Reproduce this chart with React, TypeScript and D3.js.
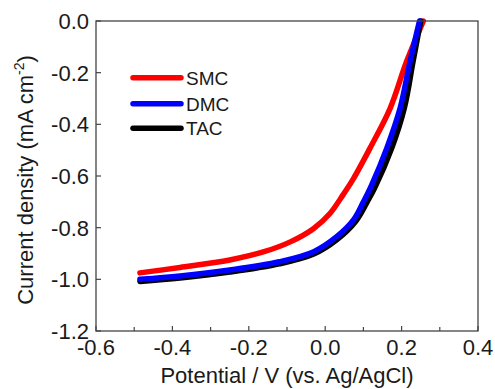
import React from "react";
import * as d3 from "d3";

const seriesNames = ["SMC", "DMC", "TAC"];
const seriesColors = ["#ff0000", "#0000ff", "#000000"];

const smcPotential = [-0.485, -0.38, -0.25, -0.16, -0.09, -0.03, 0.013, 0.047, 0.074, 0.117, 0.17, 0.213, 0.257];
const smcCurrent = [-0.975, -0.954, -0.925, -0.893, -0.854, -0.803, -0.744, -0.672, -0.61, -0.493, -0.338, -0.157, 0.0];

const dmcPotential = [-0.485, -0.38, -0.25, -0.12, -0.03, 0.03, 0.074, 0.1, 0.12, 0.161, 0.196, 0.222, 0.247];
const dmcCurrent = [-1.0, -0.987, -0.964, -0.932, -0.893, -0.835, -0.77, -0.7, -0.64, -0.493, -0.338, -0.157, 0.0];

const tacPotential = [-0.485, -0.38, -0.25, -0.12, -0.03, 0.03, 0.08, 0.11, 0.13, 0.174, 0.207, 0.23, 0.25];
const tacCurrent = [-1.008, -0.995, -0.972, -0.94, -0.902, -0.847, -0.775, -0.7, -0.645, -0.493, -0.338, -0.157, 0.0];

const xTicks = [-0.6, -0.4, -0.2, 0.0, 0.2, 0.4];
const xMinorTicks = [-0.5, -0.3, -0.1, 0.1, 0.3];
const yTicks = [0.0, -0.2, -0.4, -0.6, -0.8, -1.0, -1.2];

const W = 495;
const H = 389;
const L = 96, R = 478, T = 21, B = 331;
const FONT = "'Liberation Sans', Arial, Helvetica, sans-serif";

export default function App() {
  const x = d3.scaleLinear().domain([-0.6, 0.4]).range([L, R]);
  const y = d3.scaleLinear().domain([-1.2, 0.0]).range([B, T]);
  const line = d3
    .line<[number, number]>()
    .x((d) => x(d[0]))
    .y((d) => y(d[1]))
    .curve(d3.curveCatmullRom.alpha(0.5));

  const series = [
    { name: seriesNames[0], color: seriesColors[0], pts: smcPotential.map((p, i) => [p, smcCurrent[i]] as [number, number]) },
    { name: seriesNames[1], color: seriesColors[1], pts: dmcPotential.map((p, i) => [p, dmcCurrent[i]] as [number, number]) },
    { name: seriesNames[2], color: seriesColors[2], pts: tacPotential.map((p, i) => [p, tacCurrent[i]] as [number, number]) },
  ];
  const drawOrder = [0, 2, 1];
  const fmt = d3.format(".1f");
  const lab = (v: number) => (Math.abs(v) < 1e-9 ? "0.0" : fmt(v).replace("−", "-"));
  const axisColor = "#444";
  const textColor = "#1a1a1a";

  return (
    <svg
      width={W}
      height={H}
      style={{ position: "absolute", left: 0, top: 0, background: "#fff" }}
      fontFamily={FONT}
    >
      <rect x={0} y={0} width={W} height={H} fill="#fff" />
      {drawOrder.map((i) => (
        <path
          key={series[i].name}
          d={line(series[i].pts) || ""}
          fill="none"
          stroke={series[i].color}
          strokeWidth={5.5}
          strokeLinecap="round"
          strokeLinejoin="round"
        />
      ))}
      <rect x={L} y={T} width={R - L} height={B - T} fill="none" stroke={axisColor} strokeWidth={1.3} />
      {xTicks.map((t) => (
        <g key={"xt" + t}>
          <line x1={x(t)} x2={x(t)} y1={B} y2={B - 5} stroke={axisColor} strokeWidth={1.2} />
          <text x={x(t)} y={355} textAnchor="middle" fontSize={22} fill={textColor}>
            {lab(t)}
          </text>
        </g>
      ))}
      {xMinorTicks.map((t) => (
        <line key={"xm" + t} x1={x(t)} x2={x(t)} y1={B} y2={B - 4} stroke={axisColor} strokeWidth={1.2} />
      ))}
      {yTicks.map((t) => (
        <g key={"yt" + t}>
          <line x1={L} x2={L + 5} y1={y(t)} y2={y(t)} stroke={axisColor} strokeWidth={1.2} />
          <text x={89} y={y(t) + 8} textAnchor="end" fontSize={22} fill={textColor}>
            {lab(t)}
          </text>
        </g>
      ))}
      <text x={287} y={383} textAnchor="middle" fontSize={22} fill={textColor}>
        Potential / V (vs. Ag/AgCl)
      </text>
      <text transform={`translate(33,180) rotate(-90)`} textAnchor="middle" fontSize={22} fill={textColor}>
        Current density (mA cm
        <tspan fontSize={14} dy={-9}>-2</tspan>
        <tspan dy={9}>)</tspan>
      </text>
      {series.map((s, i) => {
        const ly = [77.7, 103.7, 128.3][i];
        return (
          <g key={"lg" + s.name}>
            <line x1={133} x2={181} y1={ly} y2={ly} stroke={s.color} strokeWidth={5.5} strokeLinecap="round" />
            <text x={186} y={ly + 7} fontSize={19} fill={textColor}>
              {s.name}
            </text>
          </g>
        );
      })}
    </svg>
  );
}
